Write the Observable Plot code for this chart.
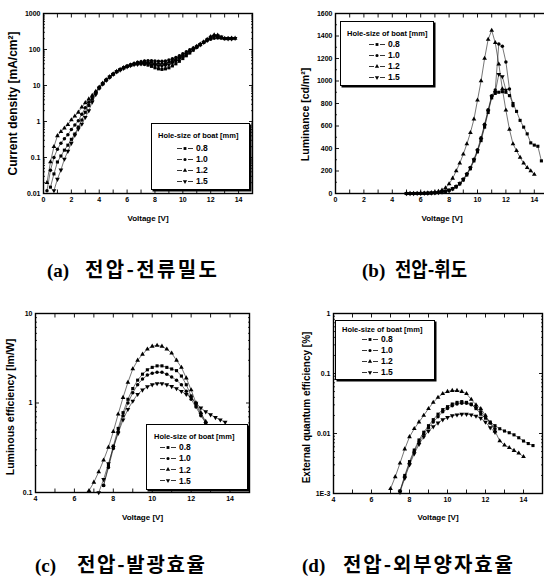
<!DOCTYPE html>
<html><head><meta charset="utf-8">
<script src="https://cdn.jsdelivr.net/npm/d3@7"></script>
<script src="https://cdn.jsdelivr.net/npm/@observablehq/plot@0.6"></script>
<style>
body{margin:0;background:#fff;}
#root{position:relative;width:544px;height:580px;overflow:hidden;background:#fff;}
.legend{position:absolute;border:1px solid #000;box-shadow:1.5px 1.5px 0 #000;background:#fff;font-family:"Liberation Sans",Arial,sans-serif;font-weight:bold;color:#000;box-sizing:border-box;}
.legend .title{position:absolute;font-size:7.5px;white-space:nowrap;transform:translateY(-50%);}
.legend .row{position:absolute;font-size:8.5px;white-space:nowrap;display:flex;align-items:center;transform:translateY(-50%);}
.legend .row svg{margin-right:3px;}
</style></head><body><div id="root"></div>
<script>
// ---------- data ----------
const series = ["0.8", "1.0", "1.2", "1.5"];
const legendTitle = "Hole-size of boat [mm]";

// (a) voltage - current density
const aV = [0.25,0.5,0.75,1.0,1.25,1.5,1.75,2.0,2.25,2.5,2.75,3.0,3.25,3.5,3.75,4.0,4.25,4.5,4.75,5.0,5.25,5.5,5.75,6.0,6.25,6.5,6.75,7.0,7.25,7.5,7.75,8.0,8.25,8.5,8.75,9.0,9.25,9.5,9.75,10.0,10.25,10.5,10.75,11.0,11.25,11.5,11.75,12.0,12.25,12.5,12.75,13.0,13.25,13.5,13.75];
const aJ08 = [null,0.015,0.035,0.075,0.11,0.16,0.22,0.32,0.45,0.7,1.1,1.8,2.8,4.2,6.2,8.5,11,14,17,20.5,24,27.5,31,34,37,39,40,40,39,37,34,31,29,28,29,31,35,40,47,56,67,80,96,115,135,160,190,220,240,230,210,200,200,200,null];
const aJ10 = [0.012,0.044,0.1,0.17,0.25,0.33,0.43,0.6,0.8,1.05,1.6,2.4,3.4,4.8,6.6,9,11.5,14.5,17.5,21,24.5,28,31.5,35,38,41,44,46,48,49,49,48,47,47,48,51,55,60,67,76,86,98,110,124,140,157,175,192,205,210,210,205,205,205,null];
const aJ12 = [0.02,0.075,0.2,0.4,0.52,0.65,0.82,1.1,1.4,1.8,2.5,3.3,4.2,5.3,6.8,9,11.5,14.5,17.5,21,24.5,28,31,34,37,40,42,44,45,45,44,42,41,41,42,45,49,55,62,70,80,92,106,122,140,162,190,225,255,250,215,200,200,205,205];
const aJ15 = [null,null,0.012,0.025,0.045,0.09,0.15,0.25,0.42,0.62,0.85,1.3,2.0,3.5,5.6,8.5,11,14,17,20.5,24,27,30,33,36,38,39,40,40,39,38,36,35,35,36,38,42,47,54,62,72,85,100,117,136,158,183,210,232,240,225,205,200,200,205];

// (b) voltage - luminance
const bV = [5.0,5.25,5.5,5.75,6.0,6.25,6.5,6.75,7.0,7.25,7.5,7.75,8.0,8.25,8.5,8.75,9.0,9.25,9.5,9.75,10.0,10.25,10.5,10.75,11.0,11.25,11.5,11.75,12.0,12.25,12.5,12.75,13.0,13.25,13.5,13.75,14.0,14.25,14.5];
const bL08 = [0,0,0,1,1,2,3,4,6,9,13,19,27,40,58,85,120,165,220,290,370,470,590,720,850,890,900,905,900,870,800,730,650,590,530,450,430,420,290];
const bL10 = [0,0,0,1,1,2,3,5,7,10,15,22,31,45,64,92,128,175,232,305,390,495,615,745,870,920,1330,1310,1170,930,780,null,null,null,null,null,null,null,null];
const bL12 = [0,0,1,1,2,3,4,7,11,18,30,50,85,135,200,270,350,440,540,660,830,1000,1200,1370,1450,1340,1150,930,740,570,440,380,320,270,230,200,170,null,null];
const bL15 = [0,0,0,1,1,2,3,4,6,9,14,20,29,42,61,88,124,170,226,298,380,482,602,732,860,900,1060,1040,920,null,null,null,null,null,null,null,null,null,null];

// (c) voltage - luminous efficiency
const cV = [6.75,7.0,7.25,7.5,7.75,8.0,8.25,8.5,8.75,9.0,9.25,9.5,9.75,10.0,10.25,10.5,10.75,11.0,11.25,11.5,11.75,12.0,12.25,12.5,12.75,13.0,13.25,13.5,13.75];
const cE08 = [null,null,null,0.12,0.2,0.33,0.52,0.78,1.1,1.45,1.8,2.1,2.35,2.5,2.6,2.6,2.5,2.4,2.3,2.0,1.6,1.2,0.95,0.75,0.6,null,null,null,null];
const cE10 = [null,null,null,0.12,0.19,0.31,0.48,0.72,1.0,1.3,1.6,1.85,2.05,2.15,2.2,2.2,2.1,1.95,1.8,1.6,1.35,1.1,0.9,0.72,0.6,null,null,null,null];
const cE12 = [0.105,0.13,0.17,0.23,0.32,0.48,0.75,1.15,1.7,2.4,3.0,3.5,4.0,4.3,4.4,4.3,4.0,3.6,3.0,2.5,1.9,1.4,1.0,0.78,0.62,null,null,null,null];
const cE15 = [null,null,0.1,0.14,0.21,0.32,0.46,0.65,0.85,1.05,1.25,1.4,1.52,1.6,1.65,1.65,1.6,1.53,1.45,1.35,1.25,1.15,1.0,0.88,0.8,0.74,0.69,0.65,0.61];

// (d) voltage - external quantum efficiency
const dV = [7.0,7.25,7.5,7.75,8.0,8.25,8.5,8.75,9.0,9.25,9.5,9.75,10.0,10.25,10.5,10.75,11.0,11.25,11.5,11.75,12.0,12.25,12.5,12.75,13.0,13.25,13.5,13.75,14.0,14.25,14.5];
const dQ08 = [null,null,0.0011,0.002,0.0034,0.0053,0.0078,0.0105,0.0135,0.017,0.021,0.025,0.028,0.031,0.033,0.034,0.033,0.031,0.026,0.021,0.018,0.0155,0.0135,0.012,0.011,0.0103,0.0095,0.0085,0.0075,0.0068,0.0063];
const dQ10 = [null,null,0.0011,0.0019,0.0032,0.005,0.0072,0.0097,0.0125,0.0155,0.019,0.023,0.026,0.029,0.031,0.032,0.032,0.03,0.027,0.023,0.019,0.015,0.012,null,null,null,null,null,null,null,null];
const dQ12 = [0.0012,0.0019,0.0032,0.0055,0.0088,0.012,0.0155,0.02,0.026,0.033,0.04,0.046,0.05,0.052,0.052,0.05,0.046,0.037,0.03,0.026,0.02,0.015,0.011,0.0075,0.0064,0.0058,0.0052,0.0047,0.0041,null,null];
const dQ15 = [null,null,0.00105,0.0018,0.003,0.0046,0.0066,0.0088,0.011,0.013,0.015,0.017,0.0185,0.0198,0.0205,0.021,0.021,0.0205,0.0195,0.018,0.0155,0.0125,0.0105,null,null,null,null,null,null,null,null];

// tick labels
const xTicks0 = [0,2,4,6,8,10,12,14];
const xTicks4 = [4,6,8,10,12,14];
const aYTicks = [0.01,0.1,1,10,100,1000];
const bYTicks = [0,200,400,600,800,1000,1200,1400,1600];
const cYTicks = [0.1,1,10];
const dYTicks = [0.001,0.01,0.1,1];
const dYLabels = ["1E-3","0.01","0.1","1"];
const xTitle = "Voltage [V]";
const captions = [
  ["(a)", "전압-전류밀도"], ["(b)", "전압-휘도"],
  ["(c)", "전압-발광효율"], ["(d)", "전압-외부양자효율"]
];

// ---------- helpers ----------
const triDown = {draw(c, size) { const s3 = Math.sqrt(3); const y = -Math.sqrt(size / (s3 * 3)); c.moveTo(0, -y * 2); c.lineTo(-s3 * y, y); c.lineTo(s3 * y, y); c.closePath(); }};
const symbolRange = [d3.symbolSquare, d3.symbolCircle, d3.symbolTriangle, triDown];

function rows(V, vals) {
  const out = [];
  series.forEach((s, k) => V.forEach((v, i) => { const y = vals[k][i]; if (y != null) out.push({v, val: y, s}); }));
  return out;
}
function logMinor(lo, hi) {
  const out = [];
  for (let e = Math.log10(lo); e < Math.log10(hi) - 0.01; e++) for (let m = 2; m <= 9; m++) out.push(m * Math.pow(10, e));
  return out;
}
const root = document.getElementById("root");

function panel(o) {
  const data = rows(o.V, o.vals);
  const none = () => "";
  const tk = 3.5, tm = 2;
  const chart = Plot.plot({
    width: o.width, height: o.height,
    marginLeft: o.ml, marginRight: o.mr, marginTop: o.mt, marginBottom: o.mb,
    x: {domain: o.xDomain},
    y: o.yLog ? {type: "log", domain: o.yDomain} : {domain: o.yDomain},
    symbol: {domain: series, range: symbolRange},
    style: {fontFamily: "'Liberation Sans', Arial, sans-serif", fontWeight: "bold", fontSize: "7px", color: "black", background: "transparent", overflow: "visible"},
    marks: [
      Plot.axisX({anchor: "bottom", ticks: o.xMinor, tickSize: tk, dy: -tk, tickFormat: none, label: null, strokeWidth: 0.9}),
      Plot.axisX({anchor: "top", ticks: o.xMinor, tickSize: tk, dy: tk, tickFormat: none, label: null, strokeWidth: 0.9}),
      Plot.axisX({anchor: "bottom", ticks: o.xTicks, tickSize: 0, tickPadding: 4, tickFormat: d => String(d), label: null}),
      Plot.axisY({anchor: "left", ticks: o.yTicks, tickSize: tk + 0.5, dx: tk + 0.5, tickFormat: none, label: null, strokeWidth: 0.9}),
      Plot.axisY({anchor: "right", ticks: o.yTicks, tickSize: tk + 0.5, dx: -(tk + 0.5), tickFormat: none, label: null, strokeWidth: 0.9}),
      Plot.axisY({anchor: "left", ticks: o.yMinor, tickSize: tm, dx: tm, tickFormat: none, label: null, strokeWidth: 0.8}),
      Plot.axisY({anchor: "right", ticks: o.yMinor, tickSize: tm, dx: -tm, tickFormat: none, label: null, strokeWidth: 0.8}),
      Plot.axisY({anchor: "left", ticks: o.yTicks, tickSize: 0, tickPadding: 3, tickFormat: o.yFmt, label: null}),
      Plot.line(data, {x: "v", y: "val", z: "s", stroke: "#1a1a1a", strokeWidth: 0.6}),
      Plot.dot(data, {x: "v", y: "val", symbol: "s", r: 1.75, fill: "black", stroke: "none"}),
      Plot.frame({stroke: "black", strokeWidth: 1.4}),
      Plot.text([o.yLabel], {text: d => d, frameAnchor: "left", rotate: -90, dx: o.yDx, dy: o.yDy, textAnchor: "middle", lineAnchor: "middle", fontSize: o.yFs, fontWeight: "bold"}),
      Plot.text([xTitle], {text: d => d, frameAnchor: "bottom", dy: o.xDy, textAnchor: "middle", lineAnchor: "middle", fontSize: 8, fontWeight: "bold"})
    ]
  });
  chart.style.position = "absolute";
  chart.style.left = o.left + "px";
  chart.style.top = o.top + "px";
  chart.style.maxWidth = "none";
  root.append(chart);
}

function legend(o) {
  const box = document.createElement("div");
  box.className = "legend";
  Object.assign(box.style, {left: o.left + "px", top: o.top + "px", width: o.w + "px", height: o.h + "px"});
  const t = document.createElement("div");
  t.className = "title"; t.textContent = legendTitle;
  Object.assign(t.style, {left: o.titleX + "px", top: o.titleY + "px"});
  box.append(t);
  series.forEach((s, k) => {
    const r = document.createElement("div");
    r.className = "row";
    Object.assign(r.style, {left: o.symX + "px", top: (o.rowY0 + k * o.step) + "px"});
    const svg = d3.create("svg").attr("width", 16).attr("height", 7);
    svg.append("path").attr("d", "M0,3.5H5M11,3.5H16").attr("stroke", "#000").attr("stroke-width", 0.8);
    svg.append("path").attr("transform", "translate(8,3.5)").attr("d", d3.symbol().type(symbolRange[k]).size(8)()).attr("fill", "#000");
    r.append(svg.node());
    r.append(document.createTextNode(s));
    box.append(r);
  });
  root.append(box);
}

// ---------- panels ----------
const int0 = d3.range(0, 16), int4 = d3.range(4, 16);
panel({left: 0, top: 0, width: 272, height: 230, ml: 43, mr: 20, mt: 13, mb: 37,
  xDomain: [0, 15], yLog: true, yDomain: [0.01, 1000], xTicks: xTicks0, xMinor: int0,
  yTicks: aYTicks, yMinor: logMinor(0.01, 1000), yFmt: d => String(d),
  V: aV, vals: [aJ08, aJ10, aJ12, aJ15], yLabel: "Current density [mA/cm²]", yDx: -30, yDy: 0, yFs: 12, xDy: 25});
panel({left: 272, top: 0, width: 290, height: 230, ml: 63, mr: 14, mt: 13, mb: 37,
  xDomain: [0, 15], yLog: false, yDomain: [0, 1600], xTicks: xTicks0, xMinor: int0,
  yTicks: bYTicks, yMinor: d3.range(100, 1600, 200), yFmt: d => String(d),
  V: bV, vals: [bL08, bL10, bL12, bL15], yLabel: "Luminance [cd/m²]", yDx: -30, yDy: 11, yFs: 10.5, xDy: 25});
panel({left: 0, top: 280, width: 272, height: 250, ml: 35, mr: 23, mt: 33, mb: 38,
  xDomain: [4, 15], yLog: true, yDomain: [0.1, 10], xTicks: xTicks4, xMinor: int4,
  yTicks: cYTicks, yMinor: logMinor(0.1, 10), yFmt: d => String(d),
  V: cV, vals: [cE08, cE10, cE12, cE15], yLabel: "Luminous efficiency [lm/W]", yDx: -25, yDy: 4, yFs: 10.5, xDy: 25});
panel({left: 272, top: 280, width: 272, height: 250, ml: 61, mr: 2, mt: 33, mb: 37,
  xDomain: [4, 15], yLog: true, yDomain: [0.001, 1], xTicks: xTicks4, xMinor: int4,
  yTicks: dYTicks, yMinor: logMinor(0.001, 1), yFmt: d => dYLabels[dYTicks.indexOf(d)] ?? String(d),
  V: dV, vals: [dQ08, dQ10, dQ12, dQ15], yLabel: "External quantum efficiency [%]", yDx: -27, yDy: 4, yFs: 10, xDy: 24});

legend({left: 151, top: 123, w: 99, h: 67, titleX: 6, titleY: 11, rowY0: 24, step: 11, symX: 25});
legend({left: 340, top: 21, w: 94, h: 65, titleX: 6, titleY: 11, rowY0: 22, step: 11, symX: 28});
legend({left: 146, top: 424, w: 102, h: 66, titleX: 7, titleY: 11, rowY0: 22, step: 11.3, symX: 13});
legend({left: 335, top: 320, w: 100, h: 60, titleX: 6, titleY: 8, rowY0: 18, step: 11, symX: 26});

// ---------- captions ----------
const cap = d3.create("svg").attr("width", 544).attr("height", 580)
  .style("position", "absolute").style("left", "0px").style("top", "0px").style("pointer-events", "none");
const capPos = [
  {x: 47, kx: 85, kw: 132, y: 277, adj: "spacing"},
  {x: 362, kx: 395, kw: 72, y: 277, adj: "spacingAndGlyphs"},
  {x: 35, kx: 77, kw: 128, y: 572, adj: "spacing"},
  {x: 302, kx: 343, kw: 170, y: 572, adj: "spacing"}
];
captions.forEach(([lab, kor], i) => {
  const p = capPos[i];
  cap.append("text").attr("x", p.x).attr("y", p.y).attr("font-family", "'Liberation Serif', 'Times New Roman', serif")
    .attr("font-weight", "bold").attr("font-size", 19).attr("fill", "#000").text(lab);
  cap.append("text").attr("x", p.kx).attr("y", p.y).attr("font-family", "'Noto Sans CJK KR', sans-serif")
    .attr("font-weight", "bold").attr("font-size", 20).attr("fill", "#000")
    .attr("textLength", p.kw).attr("lengthAdjust", p.adj).text(kor);
});
root.append(cap.node());
</script></body></html>
